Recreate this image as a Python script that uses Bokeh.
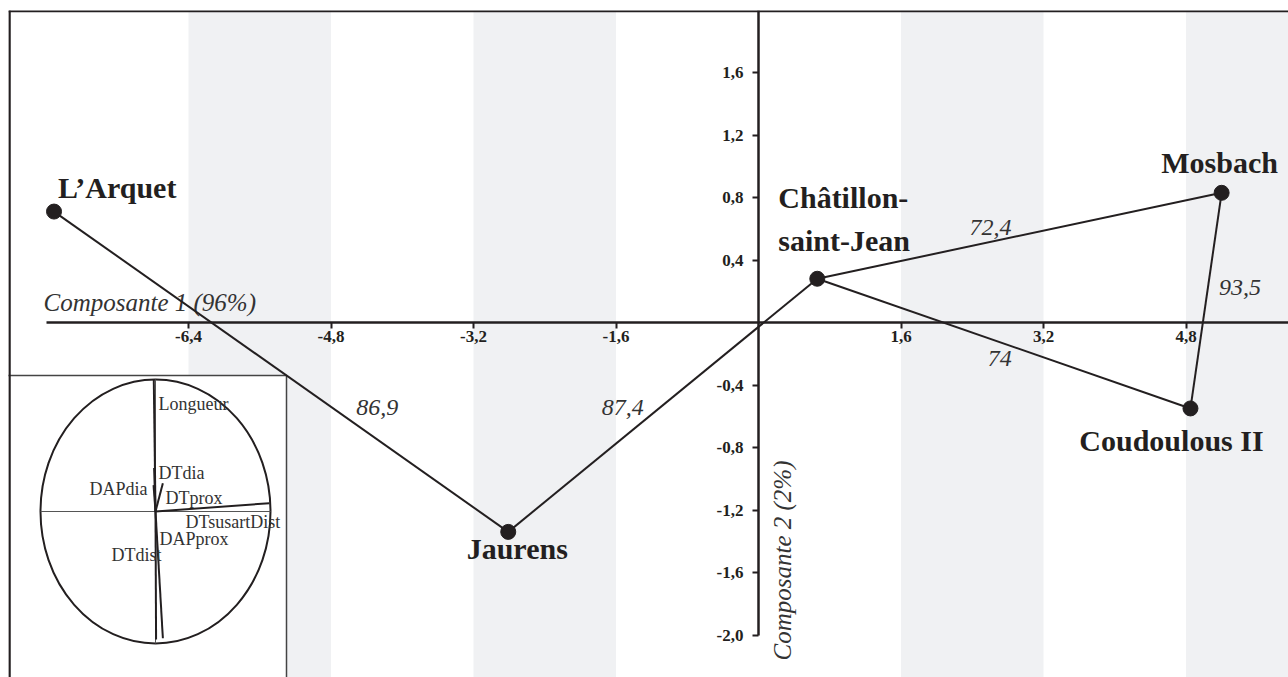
import math
from bokeh.plotting import figure
from bokeh.models import Range1d, LinearAxis, FixedTicker, BoxAnnotation, Span
from bokeh.core.properties import value
from bokeh.embed import file_html
from bokeh.resources import INLINE

# ---------------- data ----------------
sites = ["L\u2019Arquet", "Jaurens", "Ch\u00e2tillon-\nsaint-Jean", "Mosbach", "Coudoulous II"]
comp1 = [-7.91, -2.81, 0.66, 5.20, 4.85]
comp2 = [0.71, -1.34, 0.28, 0.83, -0.55]

edge_from = [0, 1, 2, 3, 4]
edge_to = [1, 2, 3, 4, 2]
edge_values = ["86,9", "87,4", "72,4", "93,5", "74"]

x_ticks = [-6.4, -4.8, -3.2, -1.6, 1.6, 3.2, 4.8]
x_tick_labels = ["-6,4", "-4,8", "-3,2", "-1,6", "1,6", "3,2", "4,8"]
y_ticks = [1.6, 1.2, 0.8, 0.4, -0.4, -0.8, -1.2, -1.6, -2.0]
y_tick_labels = ["1,6", "1,2", "0,8", "0,4", "-0,4", "-0,8", "-1,2", "-1,6", "-2,0"]

band_left = [-6.4, -3.2, 1.6, 4.8]
band_right = [-4.8, -1.6, 3.2, 6.4]

x_title = "Composante 1 (96%)"
y_title = "Composante 2 (2%)"

# correlation circle (inset)
variables = ["Longueur", "DTdia", "DAPdia", "DTprox", "DTsusartDist", "DAPprox", "DTdist"]
load1 = [-0.015, -0.012, -0.017, 0.064, 0.99, 0.064, 0.005]
load2 = [1.0, 0.33, 0.20, 0.214, 0.063, -0.96, -0.97]

# ---------------- layout helpers ----------------
W, H = 1288, 677
LEFT, TOP = 8, 10
SX = 142.5 / 1.6          # px per unit, x
SY = 62.5 / 0.4           # px per unit, y
PX0, PY0 = 758, 322       # page position of the origin
x0, x1 = (LEFT - PX0) / SX, (W - PX0) / SX
y1, y0 = (PY0 - TOP) / SY, (PY0 - H) / SY

def px2x(px):
    return (px - PX0) / SX

def px2y(py):
    return (PY0 - py) / SY

DARK = "#231f20"
TXT = "#333333"
SERIF = value("Liberation Serif")

p = figure(width=W, height=H, x_range=Range1d(x0, x1), y_range=Range1d(y0, y1),
           x_axis_type=None, y_axis_type=None, output_backend="svg",
           toolbar_location=None, min_border=0, min_border_left=LEFT, min_border_top=TOP)
p.outline_line_color = None
p.grid.visible = False
p.background_fill_color = "white"

# shaded bands
for l, r in zip(band_left, band_right):
    p.add_layout(BoxAnnotation(left=l, right=r, fill_color="#f0f1f3", fill_alpha=1,
                               line_color=None, level="underlay"))

# axes through origin
xaxis = LinearAxis(fixed_location=0, ticker=FixedTicker(ticks=x_ticks),
                   bounds=(px2x(46), x1 + 1),
                   major_label_overrides=dict(zip(x_ticks, x_tick_labels)))
yaxis = LinearAxis(fixed_location=0, ticker=FixedTicker(ticks=y_ticks),
                   bounds=(-2.0, y1 + 1),
                   major_label_overrides=dict(zip(y_ticks, y_tick_labels)))
for ax in (xaxis, yaxis):
    ax.axis_line_width = 2.5
    ax.axis_line_color = DARK
    ax.major_tick_line_width = 2
    ax.major_tick_line_color = DARK
    ax.major_tick_out = 6
    ax.major_tick_in = 0
    ax.minor_tick_out = 0
    ax.minor_tick_in = 0
    ax.major_label_text_font = "Liberation Serif"
    ax.major_label_text_font_size = "17px"
    ax.major_label_text_font_style = "bold"
    ax.major_label_text_color = DARK
xaxis.major_label_standoff = 2
yaxis.major_label_standoff = 9
p.add_layout(xaxis, "below")
p.add_layout(yaxis, "left")

# frame border (left and top)
p.add_layout(Span(location=x0 + 1 / SX, dimension="height", line_width=2.5, line_color=DARK))
p.add_layout(Span(location=y1 - 0.5 / SY, dimension="width", line_width=2.5, line_color=DARK))

# axis titles
p.text(x=[px2x(43)], y=[px2y(302)], text=[x_title], text_font=SERIF, text_font_size="25px",
       text_font_style="italic", text_color=TXT, text_align="left", text_baseline="middle")
p.text(x=[px2x(782)], y=[px2y(660)], text=[y_title], text_font=SERIF, text_font_size="25px",
       text_font_style="italic", text_color=TXT, text_align="left", text_baseline="middle",
       angle=math.pi / 2)

# ---------------- inset: correlation circle ----------------
box_right, box_top = px2x(286), px2y(375)
p.quad(left=[x0 - 1], right=[box_right], top=[box_top], bottom=[y0 - 1],
       fill_color="white", line_color="#444444", line_width=1.5)
cx, cy = px2x(155), px2y(511)
rx, ry = 115 / SX, 132 / SY
p.ellipse(x=[cx], y=[cy], width=[2 * rx], height=[2 * ry], fill_color=None,
          line_color=DARK, line_width=2)
p.segment(x0=[cx - rx, cx], y0=[cy, cy - ry], x1=[cx + rx, cx], y1=[cy, cy + ry],
          line_color="#555555", line_width=1)
p.segment(x0=[cx] * len(variables), y0=[cy] * len(variables),
          x1=[cx + a * rx for a in load1], y1=[cy + b * ry for b in load2],
          line_color=DARK, line_width=2)
lab_dx = [0.026, 0.026, -0.07, 0.087, 0.261, 0.035, -0.383]
lab_dy = [0.818, 0.295, 0.174, 0.106, -0.076, -0.212, -0.333]
lab_al = ["left", "left", "right", "left", "left", "left", "left"]
for name, dx, dy, al in zip(variables, lab_dx, lab_dy, lab_al):
    p.text(x=[cx + dx * rx], y=[cy + dy * ry], text=[name], text_font=SERIF,
           text_font_size="18px", text_color=TXT, text_align=al, text_baseline="middle")

# ---------------- main network ----------------
p.segment(x0=[comp1[i] for i in edge_from], y0=[comp2[i] for i in edge_from],
          x1=[comp1[i] for i in edge_to], y1=[comp2[i] for i in edge_to],
          line_color=DARK, line_width=2)
p.scatter(x=comp1, y=comp2, size=15, fill_color=DARK, line_color=DARK)

# edge value labels (pixel offsets from segment midpoints)
e_offx = [96, -40, -29, 34, -4]
e_offy = [36, 2, -8, -13, 15]
for a, b, t, ox, oy in zip(edge_from, edge_to, edge_values, e_offx, e_offy):
    p.text(x=[(comp1[a] + comp1[b]) / 2], y=[(comp2[a] + comp2[b]) / 2], text=[t],
           x_offset=ox, y_offset=oy, text_font=SERIF, text_font_size="24px",
           text_font_style="italic", text_color=TXT, text_align="center",
           text_baseline="middle")

# site labels
s_offx = [4, 9, -39, -2, -19]
s_offy = [-24, 17, -60, -30, 32]
s_al = ["left", "center", "left", "center", "center"]
for i, name in enumerate(sites):
    p.text(x=[comp1[i]], y=[comp2[i]], text=[name], x_offset=s_offx[i], y_offset=s_offy[i],
           text_font=SERIF, text_font_size="30px", text_font_style="bold", text_color=DARK,
           text_align=s_al[i], text_baseline="middle", text_line_height=1.3)

open("out.html", "w").write(file_html(p, INLINE))
